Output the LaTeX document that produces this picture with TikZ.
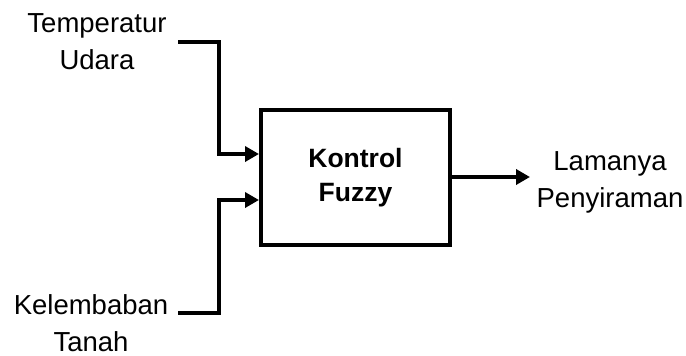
\documentclass[tikz,border=0pt]{standalone}
\usepackage{fontspec}
\setmainfont{Liberation Sans}
\usetikzlibrary{arrows.meta}
\begin{document}
\begin{tikzpicture}[x=1pt,y=-1pt,
  lbl/.style={align=center,inner sep=0pt,font=\fontsize{27.5}{37}\selectfont},
  blk/.style={draw,line width=3.5pt,minimum width=189pt,minimum height=135pt,inner sep=0pt,align=center,font=\fontsize{26.5}{34}\selectfont\bfseries},
  wire/.style={line width=3.5pt},
  arr/.style={wire,-{Triangle[length=14pt,width=15pt]}}]
\useasboundingbox (0,0) rectangle (686,356);
\node[blk] (box) at (355.5,177.5) {Kontrol\\Fuzzy};
\node[lbl] (t) at (97,42) {Temperatur\\Udara};
\node[lbl] (k) at (91,323) {Kelembaban\\Tanah};
\node[lbl] (o) at (610,182) {Lamanya\\Penyiraman};
\coordinate (t0) at (178,42);
\coordinate (k0) at (178,313);
\coordinate (in1) at (259,154);
\coordinate (in2) at (259,200);
\coordinate (out) at (530,177);
\draw[arr] (t0) -- (219,42) |- (in1);
\draw[arr] (k0) -- (219,313) |- (in2);
\draw[arr] (box.east |- out) -- (out);
\end{tikzpicture}
\end{document}
